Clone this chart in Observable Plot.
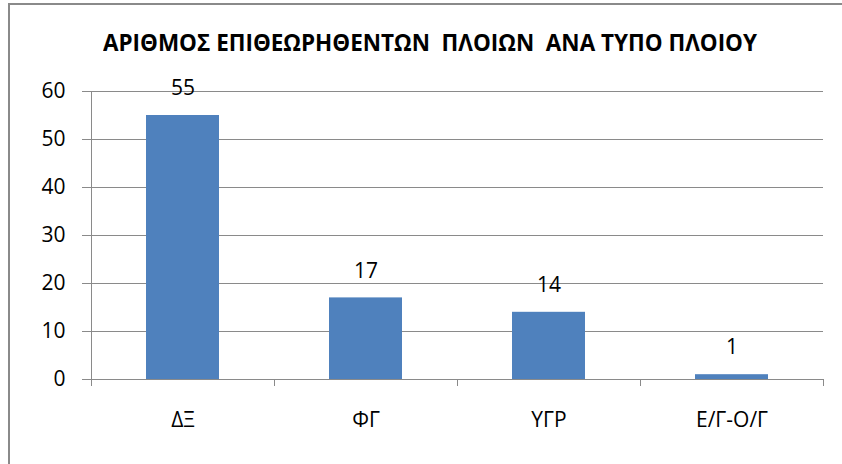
<!DOCTYPE html>
<html>
<head>
<meta charset="utf-8">
<script src="https://cdn.jsdelivr.net/npm/d3@7"></script>
<script src="https://cdn.jsdelivr.net/npm/@observablehq/plot@0.6"></script>
<style>
  html, body { margin: 0; padding: 0; background: #fff; }
  #wrap { position: relative; width: 842px; height: 464px; overflow: hidden; }
  #frame { position: absolute; left: 8px; top: 3px; width: 900px; height: 600px;
           border-left: 2px solid #8a8a8a; border-top: 2px solid #8a8a8a; }
  #title { position: absolute; left: 103px; top: 28px; white-space: pre; color: #000;
           font-family: "Open Sans", sans-serif; font-weight: bold; font-size: 23px;
           line-height: 28px; transform-origin: 0 50%; }
  #chart { position: absolute; left: 0; top: 60px; }
</style>
</head>
<body>
<div id="wrap">
  <div id="frame"></div>
  <span id="title">ΑΡΙΘΜΟΣ ΕΠΙΘΕΩΡΗΘΕΝΤΩΝ  ΠΛΟΙΩΝ  ΑΝΑ ΤΥΠΟ ΠΛΟΙΟΥ</span>
  <div id="chart"></div>
</div>
<script>
const categories = ["ΔΞ", "ΦΓ", "ΥΓΡ", "Ε/Γ-Ο/Γ"];
const values = [55, 17, 14, 1];
const yTicks = [0, 10, 20, 30, 40, 50, 60];

const data = categories.map((c, i) => ({cat: c, i, v: values[i]}));
const gray = "#8a8a8a";
const font = "'Open Sans', sans-serif";

const chart = Plot.plot({
  width: 842,
  height: 404,
  marginTop: 31,
  marginBottom: 85,
  marginLeft: 91,
  marginRight: 19,
  style: {fontFamily: font, fontSize: "21px", color: "#000", background: "transparent"},
  x: {domain: [0, categories.length], axis: null},
  y: {domain: [0, 60], axis: null},
  marks: [
    Plot.ruleY(yTicks, {stroke: gray, strokeWidth: 1, insetLeft: -9}),
    Plot.axisY({ticks: yTicks, tickSize: 0, tickPadding: 26, fontSize: 21, fill: "#000", label: null}),
    Plot.ruleX([0], {stroke: gray, strokeWidth: 1, y1: 0, y2: 60}),
    Plot.axisX({ticks: d3.range(categories.length + 1), tickSize: 7, tickFormat: () => "", stroke: gray, label: null}),
    Plot.axisX({ticks: categories.map((c, i) => i + 0.5), tickSize: 0, tickPadding: 33,
                tickFormat: t => categories[Math.floor(t)], fontSize: 21, fill: "#000", label: null}),
    Plot.rectY(data, {x1: "i", x2: d => d.i + 1, y: "v", fill: "#4F81BD", insetLeft: 55, insetRight: 55}),
    Plot.text(data, {x: d => d.i + 0.5, y: "v", text: d => String(d.v), dy: -27, fontSize: 21, fill: "#000"})
  ]
});
document.getElementById("chart").appendChild(chart);

// fit the title to the reference's width
const t = document.getElementById("title");
const w = t.getBoundingClientRect().width;
t.style.transform = `scaleX(${654 / w})`;
</script>
</body>
</html>
